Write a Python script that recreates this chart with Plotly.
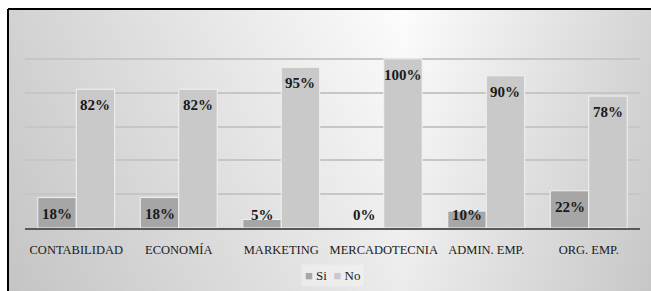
import base64
import plotly.graph_objects as go

categories = ["CONTABILIDAD", "ECONOMÍA", "MARKETING", "MERCADOTECNIA", "ADMIN. EMP.", "ORG. EMP."]
si_values = [18, 18, 5, 0, 10, 22]
no_values = [82, 82, 95, 100, 90, 78]
series_names = ["Si", "No"]
series_colors = ["#a6a6a6", "#c9c9c9"]

W, H = 651, 291
ML, MR, MT, MB = 25, 11, 25, 63
PW, PH = W - ML - MR, H - MT - MB
BARGAP = 0.25
YMAX = 120

def px_x(p):
    return (p - ML) / PW

def px_y(p):
    return (H - MB - p) / PH

svg = """<svg xmlns='http://www.w3.org/2000/svg' width='660' height='300' viewBox='0 0 660 300' preserveAspectRatio='none'>
<defs>
<linearGradient id='h' x1='0' y1='0' x2='1' y2='0'>
<stop offset='0' stop-color='#d2d2d2'/><stop offset='0.6' stop-color='#fcfcfc'/><stop offset='1' stop-color='#d2d2d2'/>
</linearGradient>
<linearGradient id='v' x1='0' y1='0' x2='0' y2='1'>
<stop offset='0' stop-color='#000' stop-opacity='0'/><stop offset='1' stop-color='#000' stop-opacity='0.07'/>
</linearGradient>
</defs>
<rect width='660' height='300' fill='url(#h)'/><rect width='660' height='300' fill='url(#v)'/>
</svg>"""
src = "data:image/svg+xml;base64," + base64.b64encode(svg.encode()).decode()

fig = go.Figure()
for name, vals, col in zip(series_names, [si_values, no_values], series_colors):
    fig.add_trace(go.Bar(
        x=categories, y=vals, name=name,
        marker=dict(color=col, line=dict(color="#f2f2f2", width=1)),
        showlegend=False, hoverinfo="x+y",
    ))

# data labels ("inside end", pushed up for short bars)
annotations = []
half = (1 - BARGAP) / 4
for k, vals in enumerate([si_values, no_values]):
    off = -half if k == 0 else half
    for i, v in enumerate(vals):
        annotations.append(dict(
            x=i + off, y=max(v, 17), xref="x", yref="y", text=f"<b>{v}%</b>",
            showarrow=False, xanchor="center", yanchor="middle", yshift=-16,
            font=dict(family="Liberation Serif", size=15, color="#1a1a1a"),
        ))

legend_text = "  ".join(
    f"<span style='color:{c}'>■</span> {n}" for n, c in zip(series_names, series_colors)
)
annotations.append(dict(text=legend_text, xref="paper", yref="paper", x=0.5, y=px_y(275),
                        xanchor="center", yanchor="middle", showarrow=False,
                        font=dict(family="Liberation Serif", size=13, color="#1a1a1a"),
                        bgcolor="rgba(255,255,255,0.3)", borderpad=3))

fig.update_layout(
    width=W, height=H,
    margin=dict(l=ML, r=MR, t=MT, b=MB),
    paper_bgcolor="white",
    plot_bgcolor="rgba(0,0,0,0)",
    barmode="group", bargap=BARGAP, bargroupgap=0.0,
    font=dict(family="Liberation Serif", color="#1a1a1a"),
    showlegend=False,
    xaxis=dict(showgrid=False, showline=True, linecolor="#595959", linewidth=2,
               ticks="outside", ticklen=9, tickcolor="rgba(0,0,0,0)",
               tickfont=dict(family="Liberation Serif", size=12.5, color="#1a1a1a"),
               fixedrange=True),
    yaxis=dict(range=[0, YMAX], dtick=20, showticklabels=False, showgrid=True,
               gridcolor="#c6c6c6", gridwidth=1.5, zeroline=False, showline=False,
               fixedrange=True),
    annotations=annotations,
    images=[dict(source=src, xref="paper", yref="paper", x=px_x(8), y=px_y(9),
                 sizex=px_x(668) - px_x(8), sizey=px_y(9) - px_y(309),
                 xanchor="left", yanchor="top", sizing="stretch", layer="below")],
    shapes=[
        dict(type="line", xref="paper", yref="paper", x0=px_x(8), y0=px_y(9),
             x1=px_x(668), y1=px_y(9), line=dict(color="black", width=2), layer="above"),
        dict(type="line", xref="paper", yref="paper", x0=px_x(8), y0=px_y(9),
             x1=px_x(8), y1=px_y(309), line=dict(color="black", width=2), layer="above"),
    ],
)

fig.write_html("out.html", config={"displayModeBar": False},
               post_script="document.documentElement.style.overflow='hidden';document.body.style.margin='0';document.body.style.overflow='hidden';")
